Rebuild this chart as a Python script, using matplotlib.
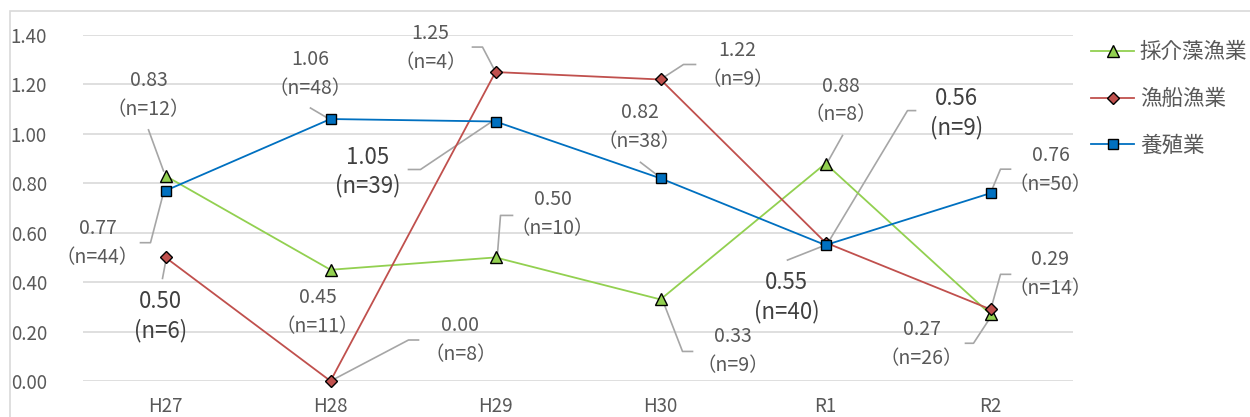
import matplotlib
matplotlib.use("Agg")
from matplotlib import pyplot as plt
from matplotlib.transforms import IdentityTransform
from matplotlib.patches import Rectangle
import numpy as np

plt.rcParams['font.family'] = ['Noto Sans CJK JP', 'DejaVu Sans']

# data
years = ['H27', 'H28', 'H29', 'H30', 'R1', 'R2']
saikai = [0.83, 0.45, 0.50, 0.33, 0.88, 0.27]
saikai_n = [12, 11, 10, 9, 8, 26]
gyosen = [0.50, 0.00, 1.25, 1.22, 0.56, 0.29]
gyosen_n = [6, 8, 4, 9, 9, 14]
yoshoku = [0.77, 1.06, 1.05, 0.82, 0.55, 0.76]
yoshoku_n = [44, 48, 39, 38, 40, 50]

series = [
    ('採介藻漁業', saikai, saikai_n, '#92d050', '^'),
    ('漁船漁業', gyosen, gyosen_n, '#c0504d', 'D'),
    ('養殖業', yoshoku, yoshoku_n, '#0070c0', 's'),
]

# label layout: text offset (px, y down), leader vertices (px offsets), big font
layout = {
    '採介藻漁業': [
        ((-17, -81), [(-17, -46), (-2, -5)], False),
        ((-13, 42), [], False),
        ((57, -43), [(2, -4), (5, -42), (17, -42)], False),
        ((72, 52), [(3, 3), (22, 52), (32, 52)], False),
        ((15, -63), [(17, -28), (3, -3)], False),
        ((-69, 30), [(0, 3), (-17, 29), (-25, 29)], False),
    ],
    '漁船漁業': [
        ((-5, 59), [(-3, 21), (0, 5)], True),
        ((130, -41), [(2, -1), (78, -41), (88, -41)], False),
        ((-65, -24), [(-23, -25), (-13, -25), (-2, -4)], False),
        ((77, -14), [(3, -2), (23, -15), (35, -15)], False),
        ((131, -130), [(2, 1), (82, -132), (90, -132)], True),
        ((60, -35), [(0, 1), (10, -35), (20, -35)], False),
    ],
    '養殖業': [
        ((-68, 52), [(-2, 2), (-15, 52), (-25, 52)], False),
        ((-20, -45), [(-20, -11), (-3, -1)], False),
        ((-128, 50), [(-5, 1), (-75, 48), (-87, 48)], True),
        ((-21, -51), [(-20, -16), (-3, -3)], False),
        ((-39, 52), [(-38, 15), (0, 0)], True),
        ((60, -23), [(0, 0), (10, -24), (20, -24)], False),
    ],
}

fig = plt.figure(figsize=(12.5, 4.17), dpi=100)
ax = fig.add_axes([83 / 1250, 1 - 381 / 417, 990 / 1250, 346 / 417])

# outer chart frame
fig.patches.append(Rectangle((10 / 1250, -0.05), 1.1, 1 - 11 / 417 + 0.05,
                             transform=fig.transFigure, fill=False,
                             ec='#d9d9d9', lw=1.2))

x = np.arange(len(years))
msizes = {'^': 8, 'D': 6.5, 's': 7}
for name, vals, ns, color, marker in series:
    ax.plot(x, vals, color=color, lw=1.3, marker=marker, markersize=msizes[marker],
            markerfacecolor=color, markeredgecolor='black', markeredgewidth=1.0,
            label=name, clip_on=False, zorder=3)

ax.set_xlim(-0.5, 5.5)
ax.set_ylim(0, 1.4)
ax.set_yticks(np.arange(0, 1.41, 0.2))
ax.set_yticklabels([f'{v:.2f}' for v in np.arange(0, 1.41, 0.2)])
ax.set_xticks(x, years)
ax.tick_params(length=0, labelsize=13.5, labelcolor='#595959')
ax.tick_params(axis='y', pad=26)
ax.tick_params(axis='x', pad=11)
ax.grid(axis='y', color='#d9d9d9', lw=1.2)
ax.set_axisbelow(True)
for s in ax.spines.values():
    s.set_visible(False)

fig.canvas.draw()
for name, vals, ns, color, marker in series:
    for i, (v, n) in enumerate(zip(vals, ns)):
        (tdx, tdy), leader, big = layout[name][i]
        px, py = ax.transData.transform((x[i], v))
        if leader:
            xs = [px + dx for dx, dy in leader]
            ys = [py - dy for dx, dy in leader]
            ax.add_line(plt.Line2D(xs, ys, transform=IdentityTransform(),
                                   color='#a6a6a6', lw=1.2, zorder=2))
        cx, cy = px + tdx, py - tdy
        if big:
            fs, col, ntxt = 16, '#404040', f'(n={n})'
        else:
            fs, col, ntxt = 14, '#595959', f'（n={n}）'
        ax.text(cx, cy + 14.5, f'{v:.2f}', transform=IdentityTransform(),
                ha='center', va='center', fontsize=fs, color=col, zorder=4)
        ax.text(cx, cy - 14.5, ntxt, transform=IdentityTransform(),
                ha='center', va='center', fontsize=fs, color=col, zorder=4)

leg = ax.legend(loc='upper left', bbox_to_anchor=(1072 / 1250, 1 - 22 / 417),
                bbox_transform=fig.transFigure, frameon=False, fontsize=15.5,
                handlelength=2.0, handletextpad=0.25, labelspacing=1.15)
for t in leg.get_texts():
    t.set_color('#595959')

fig.savefig('out.png', dpi=100)
